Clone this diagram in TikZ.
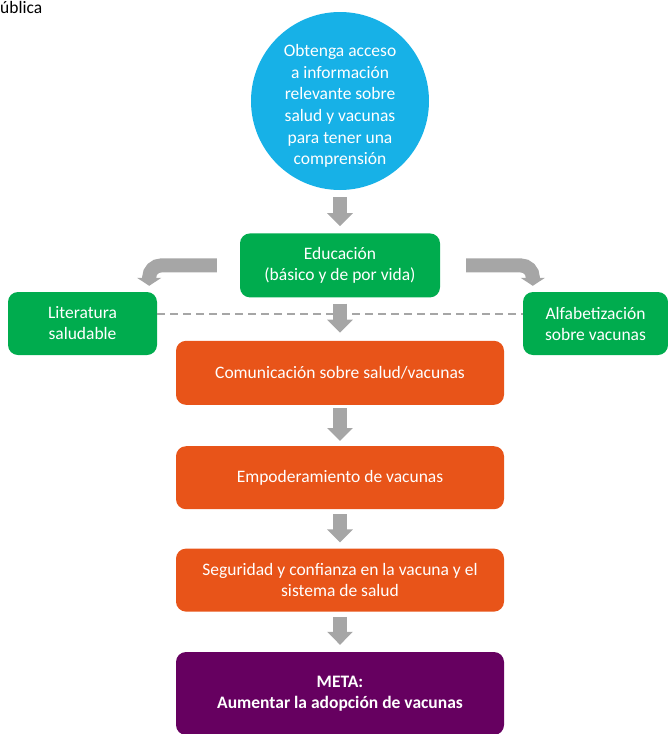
\documentclass[tikz,border=0pt]{standalone}
\usepackage{fontspec}
\setmainfont{Carlito}
\usepackage{xcolor}
\usetikzlibrary{arrows.meta,positioning}

\definecolor{circblue}{HTML}{17B1E7}
\definecolor{boxgreen}{HTML}{00AC4E}
\definecolor{boxorange}{HTML}{E85419}
\definecolor{metapurple}{HTML}{660060}
\definecolor{arrowgray}{HTML}{A6A6A6}

\tikzset{
    box/.style={rounded corners=10pt,text=white,align=center,inner sep=2pt,
        font=\fontsize{17.5}{21}\selectfont},
    greenbox/.style={box,fill=boxgreen},
    orangebox/.style={box,fill=boxorange,minimum width=328pt,minimum height=64pt},
    downarrow/.style={draw=arrowgray,line width=14pt,-{Triangle[length=13pt,width=25pt]}},
    sidearrow/.style={draw=arrowgray,line width=14pt,rounded corners=12pt,-{Triangle[length=8pt,width=24pt]}}
}

\begin{document}
\begin{tikzpicture}[x=1pt,y=-1pt]
    \useasboundingbox (0,0) rectangle (668,734);

    % text above
    \node[anchor=base west,inner sep=0pt,font=\fontsize{17.5}{21}\selectfont] (cuttext) at (0,13) {ública};

    %top
    \node[circle,fill=circblue,minimum size=178pt,inner sep=0pt] (circ) at (340,101) {};
    \node[text=white,align=center,inner sep=0pt,font=\fontsize{17.5}{21.6}\selectfont]
        (circtext) at ([yshift=-5pt]circ.center)
        {Obtenga acceso\\a información\\relevante sobre\\salud y vacunas\\para tener una\\comprensión};

    %green row
    \node[greenbox,minimum width=200pt,minimum height=64pt,below=43pt of circ] (edu) {Educación\\(básico y de por vida)};
    \node[greenbox,minimum width=149pt,minimum height=63pt] (lit) at (82.5,323.5) {Literatura\\saludable};
    \node[greenbox,minimum width=145pt,minimum height=63pt] (alf) at (595.5,323.5) {Alfabetización\\sobre vacunas};

    %orange column
    \node[orangebox,below=43pt of edu] (com) {Comunicación sobre salud/vacunas};
    \node[orangebox,minimum height=63pt,below=41pt of com] (emp) {Empoderamiento de vacunas};
    \node[orangebox,minimum height=63pt,below=39pt of emp] (seg) {Seguridad y confianza en la vacuna y el\\sistema de salud};

    %goal
    \node[box,fill=metapurple,minimum width=328pt,minimum height=83pt,below=40pt of seg,
        font=\fontsize{17.5}{21}\selectfont\bfseries] (meta) {META:\\Aumentar la adopción de vacunas};

    %dashed line
    \draw[arrowgray,line width=2pt,dash pattern=on 8pt off 5pt] ([yshift=10pt]lit.east) -- ([yshift=10pt]alf.west);

    %arrows
    \draw[downarrow,shorten <=7pt,shorten >=7pt] (circ.south) -- (edu.north);
    \draw[downarrow,shorten <=6pt,shorten >=8pt] (edu.south) -- (com.north);
    \draw[downarrow,shorten <=3pt,shorten >=5pt] (com.south) -- (emp.north);
    \draw[downarrow,shorten <=5pt,shorten >=6pt] (emp.south) -- (seg.north);
    \draw[downarrow,shorten <=5pt,shorten >=7pt] (seg.south) -- (meta.north);

    %side arrows
    \draw[sidearrow,shorten >=6pt] ([xshift=-23pt]edu.west) -| ([xshift=-8pt]lit.north east);
    \draw[sidearrow,shorten >=6pt] ([xshift=26pt]edu.east) -| ([xshift=10pt]alf.north west);
\end{tikzpicture}
\end{document}
